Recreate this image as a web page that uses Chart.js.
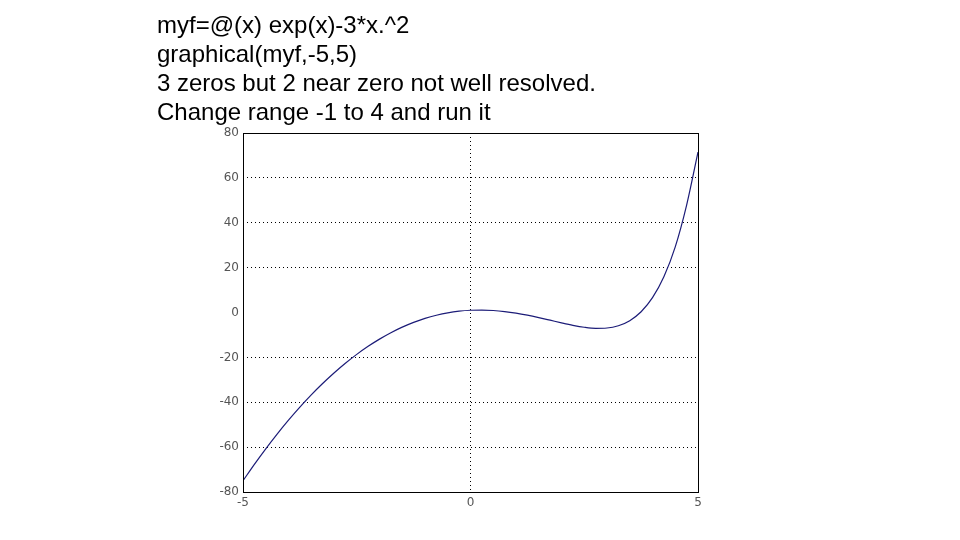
<!DOCTYPE html>
<html>
<head>
<meta charset="utf-8">
<script src="https://cdn.jsdelivr.net/npm/chart.js@4.4.0/dist/chart.umd.min.js"></script>
<style>
  html, body { margin: 0; padding: 0; background: #fff; }
  #wrap { position: relative; width: 960px; height: 540px; overflow: hidden; }
  #notes { position: absolute; left: 157px; top: 10px; font-family: "Liberation Sans", Arial, sans-serif;
           font-size: 24px; line-height: 29px; color: #000; white-space: pre; }
  canvas { position: absolute; left: 0; top: 0; }
</style>
</head>
<body>
<div id="wrap">
  <canvas id="c" width="960" height="540"></canvas>
  <div id="notes"></div>
</div>
<script>
const noteLines = [
  "myf=@(x) exp(x)-3*x.^2",
  "graphical(myf,-5,5)",
  "3 zeros but 2 near zero not well resolved.",
  "Change range -1 to 4 and run it"
];
const xValues = [-5, -4.75, -4.5, -4.25, -4, -3.75, -3.5, -3.25, -3, -2.75, -2.5, -2.25, -2, -1.75, -1.5, -1.25, -1, -0.75, -0.5, -0.25,
  0, 0.25, 0.5, 0.75, 1, 1.25, 1.5, 1.75, 2, 2.25, 2.5, 2.75, 3, 3.25, 3.5, 3.75, 4, 4.25, 4.5, 4.75, 5];
const yValues = [-74.99, -67.68, -60.74, -54.17, -47.98, -42.16, -36.72, -31.65, -26.95, -22.62, -18.67, -15.08, -11.86, -9.01, -6.53, -4.40, -2.63, -1.22, -0.14, 0.59,
  1.00, 1.10, 0.90, 0.43, -0.28, -1.20, -2.27, -3.43, -4.61, -5.70, -6.57, -7.04, -6.91, -5.90, -3.63, 0.33, 6.60, 15.92, 29.27, 47.90, 71.5];
const xTicks = [-5, 0, 5];
const yTicks = [-80, -60, -40, -20, 0, 20, 40, 60, 80];

document.getElementById('notes').textContent = noteLines.join('\n');

const points = xValues.map((x, i) => ({ x: x, y: yValues[i] }));

const boxPlugin = {
  id: 'box',
  afterDraw(chart) {
    const a = chart.chartArea, ctx = chart.ctx;
    ctx.save();
    ctx.strokeStyle = '#000';
    ctx.lineWidth = 1;
    ctx.strokeRect(Math.round(a.left) + 0.5, Math.round(a.top) + 0.5, Math.round(a.right - a.left), Math.round(a.bottom - a.top));
    ctx.restore();
  }
};

new Chart(document.getElementById('c'), {
  type: 'scatter',
  data: {
    datasets: [{
      data: points,
      showLine: true,
      borderColor: '#1c1c78',
      borderWidth: 1.2,
      pointRadius: 0,
      cubicInterpolationMode: 'monotone'
    }]
  },
  options: {
    responsive: false,
    animation: false,
    events: [],
    layout: { padding: { left: 190, right: 262, top: 133, bottom: 0 } },
    plugins: { legend: { display: false }, tooltip: { enabled: false } },
    scales: {
      x: {
        type: 'linear', min: -5, max: 5,
        afterBuildTicks: s => { s.ticks = xTicks.map(v => ({ value: v })); },
        afterFit: s => { s.height = 48; },
        border: { display: false, dash: [1, 3] },
        grid: {
          drawTicks: false,
          color: c => (c.tick && c.tick.value === 0) ? '#000' : 'rgba(0,0,0,0)',
          lineWidth: 1
        },
        ticks: { color: '#555', font: { family: 'DejaVu Sans', size: 12 }, padding: 4, maxRotation: 0 }
      },
      y: {
        type: 'linear', min: -80, max: 80,
        afterBuildTicks: s => { s.ticks = yTicks.map(v => ({ value: v })); },
        afterFit: s => { s.width = 53; },
        border: { display: false, dash: [1, 3] },
        grid: {
          drawTicks: false,
          color: c => (c.tick && (c.tick.value === 0 || Math.abs(c.tick.value) === 80)) ? 'rgba(0,0,0,0)' : '#000',
          lineWidth: 1
        },
        ticks: { color: '#555', font: { family: 'DejaVu Sans', size: 12 }, padding: 4 }
      }
    }
  },
  plugins: [boxPlugin]
});
</script>
</body>
</html>
